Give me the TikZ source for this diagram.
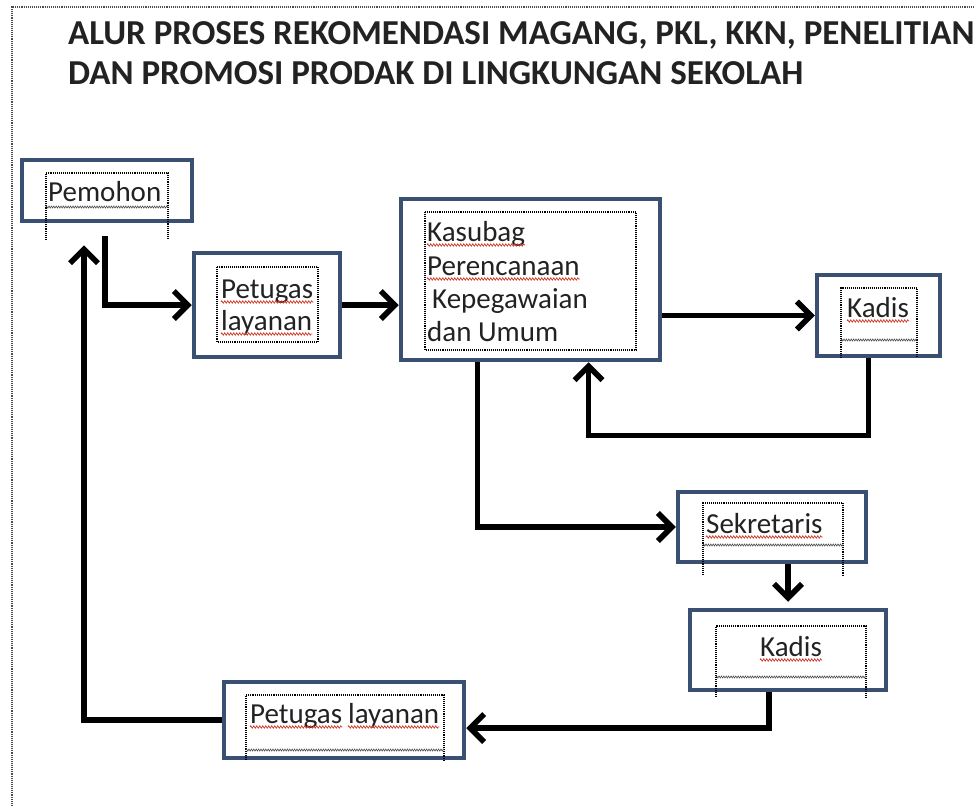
\documentclass[tikz,border=0pt]{standalone}
\usepackage{fontspec}
\setmainfont{Carlito}
\usetikzlibrary{arrows.meta,decorations.pathmorphing}

\definecolor{boxblue}{HTML}{3A5072}
\definecolor{textgray}{HTML}{222222}
\definecolor{spellred}{HTML}{D23A2A}

\begin{document}
\begin{tikzpicture}[x=1pt, y=-1pt,
  box/.style={draw=boxblue, line width=4.5pt, inner sep=0pt},
  txt/.style={anchor=base west, inner sep=0pt, text=textgray, font=\fontsize{29}{29}\selectfont},
  headline/.style={anchor=base west, inner sep=0pt, text=textgray, font=\bfseries\fontsize{35}{35}\selectfont},
  frame/.style={densely dotted, line width=1.1pt},
  zig/.style={decorate, decoration={zigzag, segment length=2.4pt, amplitude=1pt}, line width=0.6pt, black!70},
  spell/.style={decorate, decoration={zigzag, segment length=3pt, amplitude=1.2pt}, line width=0.7pt, spellred},
  arr/.style={line width=5.5pt, -{Straight Barb[length=14pt,width=28pt]}}]

\useasboundingbox (0,0) rectangle (975,806);

% Page frame
\draw[frame, black!70] (12,806) -- (12,7) -- (975,7);

% Title
\node[headline] (title1) at (68,44) {ALUR PROSES REKOMENDASI MAGANG, PKL, KKN, PENELITIAN};
\node[headline] (title2) at (68,84) {DAN PROMOSI PRODAK DI LINGKUNGAN SEKOLAH};

% Boxes
\node[box, minimum width=170pt, minimum height=61pt] (pemohon) at (107,190.5) {};
\node[box, minimum width=146pt, minimum height=104pt] (petugas) at (267,305) {};
\node[box, minimum width=259pt, minimum height=161pt] (kasubag) at (530.5,279.5) {};
\node[box, minimum width=123pt, minimum height=81pt] (kadisA) at (878.5,315.5) {};
\node[box, minimum width=188pt, minimum height=70pt] (sekretaris) at (772,527) {};
\node[box, minimum width=196pt, minimum height=80pt] (kadisB) at (788,650) {};
\node[box, minimum width=240pt, minimum height=76pt] (petugasB) at (344,720) {};

% Text frames
\draw[frame] (46,240) |- (168,173) -- (168,240);
\draw[zig] (46,207) -- (168,207);
\draw[frame] (217,267) rectangle (318,342);
\draw[frame] (425,212) rectangle (636,350);
\draw[frame] (841,358) |- (917,288) -- (917,358);
\draw[zig] (841,340) -- (917,340);
\draw[frame] (703,575) |- (843,503) -- (843,575);
\draw[zig] (703,545) -- (843,545);
\draw[frame] (716,697) |- (866,626) -- (866,697);
\draw[zig] (716,677) -- (866,677);
\draw[frame] (246,760) |- (444,695) -- (444,760);
\draw[zig] (246,750) -- (444,750);

% Texts
\node[txt] (pemohon-txt) at (48,201) {Pemohon};
\node[txt] (petugas-txt1) at (221,298) {Petugas};
\node[txt] (petugas-txt2) at (221,330) {layanan};
\node[txt] (kasubag-txt1) at (427,241) {Kasubag};
\node[txt] (kasubag-txt2) at (427,275) {Perencanaan};
\node[txt] (kasubag-txt3) at (432,308) {Kepegawaian};
\node[txt] (kasubag-txt4) at (427,341) {dan Umum};
\node[txt] (kadisA-txt) at (847,317) {Kadis};
\node[txt] (sekretaris-txt) at (706,533) {Sekretaris};
\node[txt] (kadisB-txt) at (760,656) {Kadis};
\node[txt] (petugasB-txt1) at (250,723) {Petugas};
\node[txt] (petugasB-txt2) at (348,723) {layanan};

% Spelling marks
\draw[spell] ([yshift=-4pt]petugas-txt1.base west) -- ([yshift=-4pt]petugas-txt1.base east);
\draw[spell] ([yshift=-4pt]petugas-txt2.base west) -- ([yshift=-4pt]petugas-txt2.base east);
\draw[spell] ([yshift=-4pt]kasubag-txt1.base west) -- ([yshift=-4pt]kasubag-txt1.base east);
\draw[spell] ([yshift=-4pt]kasubag-txt2.base west) -- ([yshift=-4pt]kasubag-txt2.base east);
\draw[spell] ([yshift=-4pt]kadisA-txt.base west) -- ([yshift=-4pt]kadisA-txt.base east);
\draw[spell] ([yshift=-4pt]sekretaris-txt.base west) -- ([yshift=-4pt]sekretaris-txt.base east);
\draw[spell] ([yshift=-4pt]kadisB-txt.base west) -- ([yshift=-4pt]kadisB-txt.base east);
\draw[spell] ([yshift=-4pt]petugasB-txt1.base west) -- ([yshift=-4pt]petugasB-txt1.base east);
\draw[spell] ([yshift=-4pt]petugasB-txt2.base west) -- ([yshift=-4pt]petugasB-txt2.base east);

% Arrows
\draw[arr] ([xshift=-2pt,yshift=-13pt]pemohon.south) |- (petugas.west);
\draw[arr] (petugas.east) -- (petugas.east -| kasubag.west);
\draw[arr] (kasubag.east |- kadisA.west) -- (kadisA.west);
\draw[arr] ([xshift=-10pt]kadisA.south) -- ++(0,77) -| ([xshift=58pt]kasubag.south);
\draw[arr] ([xshift=-53pt]kasubag.south) |- (sekretaris.west);
\draw[arr] (kadisB.north |- sekretaris.south) -- ([yshift=6pt]kadisB.north);
\draw[arr] ([xshift=-19pt]kadisB.south) |- ([yshift=-8pt]petugasB.east);
\draw[arr] (petugasB.west) -| ([xshift=-23pt,yshift=-22pt]pemohon.south);

\end{tikzpicture}
\end{document}
